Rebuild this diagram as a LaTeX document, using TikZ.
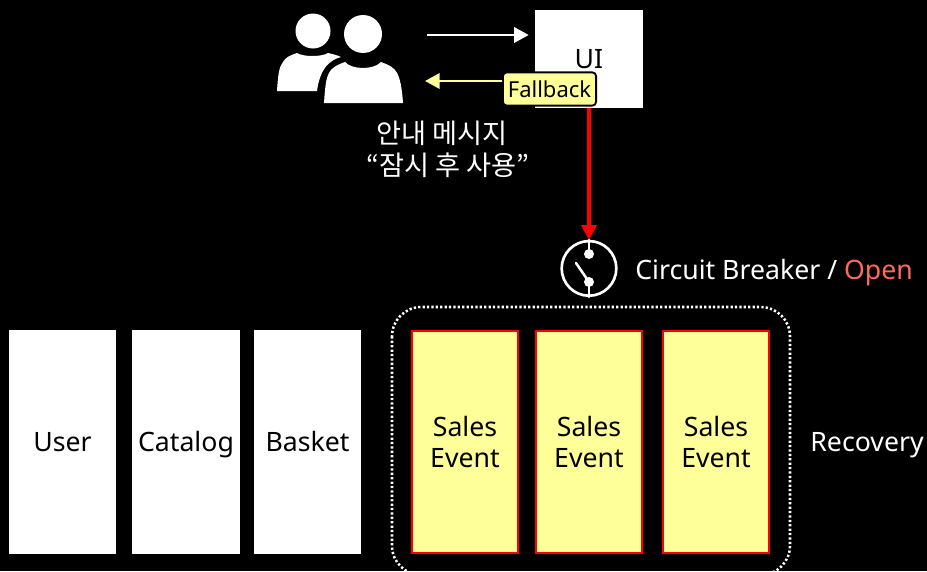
\documentclass[tikz,border=0pt]{standalone}
\usepackage{fontspec}
\setmainfont{Noto Sans}
\newfontfamily\korean{Noto Sans CJK KR}
\usepackage{xcolor}
\usetikzlibrary{positioning,arrows.meta,calc}
\definecolor{notecolor}{RGB}{255, 255, 153}
\definecolor{opencolor}{RGB}{255, 106, 90}
\tikzset{
    label text/.style={font=\fontsize{20}{24}\selectfont, text=white, align=center, inner sep=0pt, text height=14.5pt, text depth=0pt},
    service/.style={rectangle, fill=white, text=black, minimum width=80.6pt, minimum height=168pt, inner sep=0pt, font=\fontsize{20}{24}\selectfont, text height=14.5pt, text depth=0pt},
    event/.style={service, fill=notecolor, draw=red, line width=2.1pt, minimum width=79.5pt, minimum height=166.5pt, align=center, text height=, text depth=},
    fallback/.style={rectangle, rounded corners=3pt, fill=notecolor, draw=black, line width=1.4pt, text=black, inner sep=0pt, minimum width=70pt, minimum height=25pt, font=\fontsize{16.5}{20}\selectfont},
    recovery group/.style={draw=white, line width=1.9pt, dash pattern=on 1.7pt off 1.6pt, rounded corners=22pt},
    call arrow/.style={-{Triangle[length=11pt, width=11.5pt]}, line width=1.9pt},
    breaker part/.style={draw=white, line width=1.9pt, line cap=round}
}
\begin{document}
\begin{tikzpicture}[x=0.75pt, y=-0.75pt]
    % Page
    \fill[black] (0,0) rectangle (927,571);
    \useasboundingbox (0,0) rectangle (927,571);

    % Users icon
    \fill[white] (313,31) circle (17.5);
    \fill[white] (363,34) circle (19);
    \fill[white] (277,91) .. controls (278,75) and (279,67) .. (283,62) .. controls (285,58) and (290,55) .. (297,53)
        .. controls (303,57) and (322,57) .. (328,53) .. controls (332,54) and (337,55) .. (341,57)
        .. controls (330,60) and (320,68) .. (317,91) -- cycle;
    \fill[white] (324,103) .. controls (325,88) and (326,78) .. (329,73) .. controls (331,68) and (337,65) .. (345,62)
        .. controls (352,70) and (374,70) .. (381,62) .. controls (389,65) and (395,68) .. (397,73)
        .. controls (400,78) and (402,88) .. (403,103) -- cycle;
    \coordinate (users-out) at (427,35);
    \coordinate (users-in) at (425,81);

    % Services
    \node[service] (User) at (62.5,442) {User};
    \node[service] (Catalog) at (186,442) {Catalog};
    \node[service] (Basket) at (307.5,442) {Basket};

    % Sales events - one loop for the three copies
    \foreach \n/\x in {1/465, 2/589, 3/716} {
        \node[event] (Sales-\n) at (\x,442) {Sales\\[-0.5pt]Event};
    }
    \draw[recovery group] (392,307) rectangle (790,575);
    \node[label text] (Recovery) at (867,442) {Recovery};

    % UI with the fallback note
    \node[service, minimum width=81pt, minimum height=73.5pt] (UI) at (589,59) {UI};
    \node[fallback] (Fallback) at (549.5,89) {Fallback};

    % Breaker switch
    \node[circle, draw=white, line width=2pt, minimum size=41pt, inner sep=0pt] (Breaker) at (589,268.4) {};
    \fill[white] (589,254) circle (5);
    \fill[white] (589,282) circle (5);
    \draw[breaker part] (Breaker.north) -- (589,254);
    \draw[breaker part] (Breaker.south) -- (589,282);
    \draw[breaker part] (576,263) -- (589,282);
    \node[label text, anchor=west] (Breaker-label) at (635,270) {Circuit Breaker / \textcolor{opencolor}{Open}};

    % Message
    \node[label text, font=\korean\fontsize{20.4}{24}\selectfont, text height=, text depth=] (Message) at (448,149.5) {안내 메시지\kern9pt\\“잠시 후 사용”};

    % Connectors
    \draw[call arrow, white, shorten >=4.5pt] (users-out) -- (UI.west |- users-out);
    \draw[call arrow, notecolor] (Fallback.west |- users-in) -- (users-in);
    \draw[call arrow, red, line width=2.3pt] (UI.south) -- (Breaker.north);
\end{tikzpicture}
\end{document}
